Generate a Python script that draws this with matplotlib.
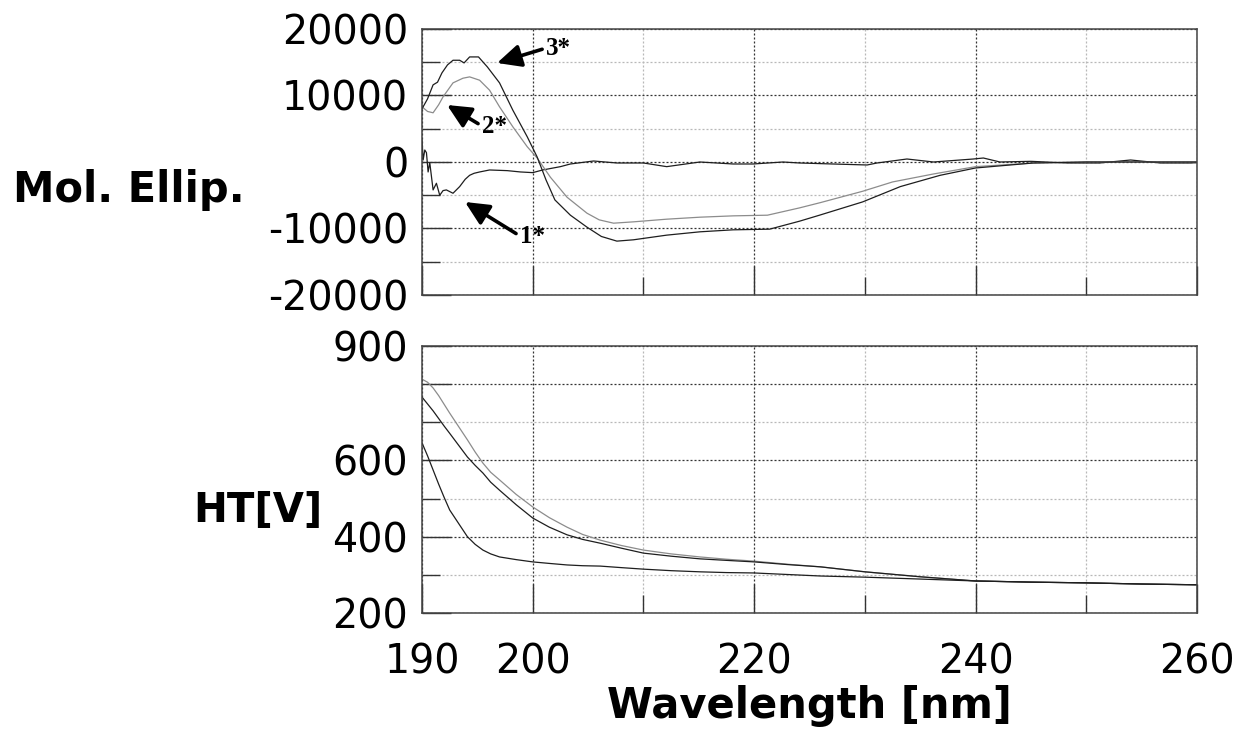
import matplotlib
matplotlib.use('Agg')
import matplotlib.pyplot as plt
from matplotlib.ticker import FixedLocator, FixedFormatter

plt.rcParams['axes.unicode_minus'] = False
plt.rcParams['font.family'] = 'DejaVu Sans'

# CD spectra (Mol. Ellip.)
cd1_nm = [190.0, 190.1, 190.25, 190.4, 190.55, 190.7, 191.0, 191.3, 191.6, 191.9, 192.2,
          192.8, 193.4, 193.9, 194.3, 194.7, 195.2, 196.1, 197.7, 198.9, 200.0, 200.9,
          202.5, 203.4, 205.5, 207.6, 210.0, 212.1, 215.1, 218.1, 219.9, 222.6, 224.1,
          227.1, 230.2, 231.1, 233.8, 236.2, 239.8, 240.7, 242.2, 245.0, 248.3, 251.2,
          254.0, 256.7, 259.4, 260.0]
cd1_val = [3300, 300, 1800, 1400, -1500, -100, -4200, -3200, -5000, -4300, -4200,
           -4700, -3700, -2600, -2000, -1700, -1500, -1200, -1300, -1500, -1600, -1200,
           -700, -300, 150, -150, -150, -700, 0, -300, -300, 0, -150,
           -300, -450, -150, 450, 0, 450, 600, 0, 100, -150, -150,
           300, -150, -150, -100]

cd2_nm = [190.0, 190.5, 191.0, 191.5, 191.9, 192.8, 193.7, 194.3, 195.2, 196.1, 197.0,
          198.2, 199.5, 200.4, 201.6, 203.1, 204.9, 206.0, 207.3, 209.1, 212.1, 215.1,
          218.1, 221.2, 224.1, 226.0, 229.8, 232.5, 236.2, 240.0, 245.2, 250.0, 255.0, 260.0]
cd2_val = [8300, 7600, 7400, 8600, 9800, 11900, 12600, 12800, 12300, 10800, 8300,
           5300, 2300, 600, -2300, -5300, -7700, -8700, -9200, -9000, -8600, -8300,
           -8100, -8000, -6900, -6100, -4400, -3000, -1800, -700, -150, 0, 0, 0]

cd3_nm = [190.0, 190.5, 191.0, 191.4, 191.8, 192.3, 192.8, 193.4, 193.8, 194.3, 195.1,
          195.9, 197.0, 198.2, 199.5, 200.4, 201.2, 202.0, 203.4, 204.9, 206.2, 207.6,
          209.1, 212.1, 215.1, 218.1, 221.4, 224.1, 225.9, 229.8, 233.2, 236.8, 240.0,
          245.2, 250.0, 255.0, 260.0]
cd3_val = [8000, 9500, 11600, 12000, 13400, 14600, 15300, 15300, 14900, 15800, 15800,
           14300, 11900, 7800, 3800, 750, -2700, -5700, -8000, -9800, -11200, -11900,
           -11700, -11000, -10500, -10200, -10100, -8900, -8000, -6000, -3700, -2000, -900,
           -150, 0, 0, 0]

# HT voltage
ht_nm = [190, 190.5, 191, 191.5, 192, 192.5, 193.3, 194.1, 194.8, 195.5, 196.2, 197,
         198.5, 200, 201.5, 203.1, 204.5, 206.1, 208, 210, 212.5, 215.1, 217.5, 220,
         223, 226, 230, 235, 240, 245, 250, 255, 260]
ht1 = [646, 612, 575, 538, 503, 470, 435, 400, 380, 365, 355, 347,
       340, 334, 330, 326, 324, 323, 319, 315, 311, 308, 306, 305,
       301, 297, 294, 289, 284, 281, 279, 276, 274]
ht2 = [813, 805, 790, 770, 747, 724, 689, 654, 622, 593, 569, 549,
       511, 478, 450, 425, 406, 391, 377, 365, 355, 347, 341, 336,
       328, 321, 308, 295, 284, 281, 279, 276, 274]
ht3 = [766, 748, 730, 710, 690, 671, 640, 609, 587, 567, 543, 522,
       484, 449, 425, 405, 393, 383, 370, 357, 349, 342, 338, 334,
       327, 321, 308, 295, 284, 281, 279, 276, 274]

dark = '#1e1e1e'
light = '#8c8c8c'

fig = plt.figure(figsize=(12.46, 7.36), dpi=100)
ax1 = fig.add_axes([0.3387, 0.5992, 0.622, 0.3614])
ax2 = fig.add_axes([0.3387, 0.1671, 0.622, 0.3628])

ax1.plot(cd1_nm, cd1_val, color=dark, lw=0.9)
ax1.plot(cd2_nm, cd2_val, color=light, lw=0.9)
ax1.plot(cd3_nm, cd3_val, color=dark, lw=0.9)

ax2.plot(ht_nm, ht2, color=light, lw=0.9)
ax2.plot(ht_nm, ht3, color=dark, lw=0.9)
ax2.plot(ht_nm, ht1, color=dark, lw=0.9)


def style_axes(ax, ymajor, ylabels, yminor, ylim):
    ax.set_xlim(190, 260)
    ax.set_ylim(*ylim)
    ax.xaxis.set_major_locator(FixedLocator([190, 200, 220, 240, 260]))
    ax.xaxis.set_minor_locator(FixedLocator([210, 230, 250]))
    ax.yaxis.set_major_locator(FixedLocator(ymajor))
    ax.yaxis.set_major_formatter(FixedFormatter(ylabels))
    ax.yaxis.set_minor_locator(FixedLocator(yminor))
    ax.grid(which='major', color='#333333', linestyle=(0, (1.6, 1.6)), lw=0.9)
    ax.grid(which='minor', color='#b8b8b8', linestyle=(0, (1.6, 1.6)), lw=0.9)
    ax.tick_params(which='both', direction='in', top=False, right=False,
                   color='#333333', width=1.0, labelsize=28.5)
    ax.tick_params(which='major', length=21)
    ax.tick_params(which='minor', length=13)
    ax.tick_params(axis='y', pad=10)
    ax.tick_params(axis='x', pad=21)
    for s in ax.spines.values():
        s.set_color('#444444')
        s.set_linewidth(1.1)


style_axes(ax1, [-20000, -10000, 0, 10000, 20000],
           ['-20000', '-10000', '0', '10000', '20000'],
           [-15000, -5000, 5000, 15000], (-20000, 20000))
style_axes(ax2, [200, 400, 600, 800, 900],
           ['200', '400', '600', '', '900'],
           [300, 500, 700], (200, 900))
ax1.tick_params(axis='x', labelbottom=False)
ax2.xaxis.set_major_formatter(FixedFormatter(['190', '200', '220', '240', '260']))

# labels
ax1.set_ylabel('Mol. Ellip.', rotation=0, fontsize=30, fontweight='bold',
               ha='left', va='baseline')
ax1.yaxis.set_label_coords(-0.528, 0.35)
ax2.set_ylabel('HT[V]', rotation=0, fontsize=29, fontweight='bold',
               ha='left', va='baseline')
ax2.yaxis.set_label_coords(-0.2955, 0.341)
ax2.set_xlabel('Wavelength [nm]', fontsize=30, fontweight='bold', va='baseline')
ax2.xaxis.set_label_coords(0.5, -0.393)

# curve markers
arrow = dict(arrowstyle='-|>,head_length=0.8,head_width=0.38', color='black',
             lw=2.6, shrinkA=1, shrinkB=0, relpos=(0, 0.5))
txt = dict(fontsize=18, fontweight='bold', family='Liberation Serif',
           ha='left', va='center')
ax1.annotate('3*', xy=(196.78, 14890), xytext=(201.22, 17140), arrowprops=arrow, **txt)
ax1.annotate('2*', xy=(192.26, 8570), xytext=(195.42, 5410), arrowprops=arrow, **txt)
ax1.annotate('1*', xy=(193.88, -6015), xytext=(198.85, -11130), arrowprops=arrow, **txt)

plt.savefig('out.png', dpi=100)
plt.close()
